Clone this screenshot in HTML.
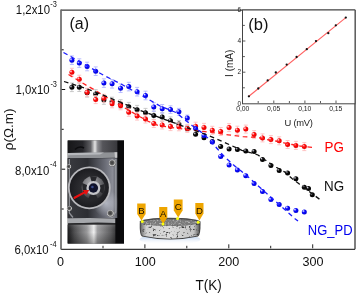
<!DOCTYPE html>
<html><head><meta charset="utf-8"><style>
html,body{margin:0;padding:0;background:#fff;}
body{width:357px;height:293px;overflow:hidden;position:relative;}
svg{position:absolute;left:0;top:0;will-change:transform;}
</style></head><body>
<svg width="357" height="293" viewBox="0 0 357 293" font-family="Liberation Sans, sans-serif">
<defs>
<radialGradient id="gb" cx="0.42" cy="0.42" r="0.62" fx="0.28" fy="0.28"><stop offset="0" stop-color="#f0f0ff"/><stop offset="0.22" stop-color="#9090ff"/><stop offset="0.45" stop-color="#0a0aff"/><stop offset="1" stop-color="#0000d0"/></radialGradient>
<radialGradient id="gr" cx="0.42" cy="0.42" r="0.62" fx="0.28" fy="0.28"><stop offset="0" stop-color="#f0e8ff"/><stop offset="0.22" stop-color="#ff9090"/><stop offset="0.45" stop-color="#ff0808"/><stop offset="1" stop-color="#e00000"/></radialGradient>
<radialGradient id="gk" cx="0.42" cy="0.42" r="0.62" fx="0.28" fy="0.28"><stop offset="0" stop-color="#e0e0f0"/><stop offset="0.22" stop-color="#707078"/><stop offset="0.45" stop-color="#080808"/><stop offset="1" stop-color="#000"/></radialGradient>
</defs>
<rect x="0" y="0" width="357" height="293" fill="#fff"/>
<!-- data -->
<path d="M69.9 83.0h4M69.9 91.6h4M71.9 83.0v8.6" stroke="#c4c4c4" stroke-width="0.9" fill="none"/>
<path d="M77.3 82.9h4M77.3 91.5h4M79.3 82.9v8.6" stroke="#c4c4c4" stroke-width="0.9" fill="none"/>
<path d="M85.1 88.5h4M85.1 97.1h4M87.1 88.5v8.6" stroke="#c4c4c4" stroke-width="0.9" fill="none"/>
<path d="M93.7 89.7h4M93.7 98.3h4M95.7 89.7v8.6" stroke="#c4c4c4" stroke-width="0.9" fill="none"/>
<path d="M101.9 95.7h4M101.9 104.3h4M103.9 95.7v8.6" stroke="#c4c4c4" stroke-width="0.9" fill="none"/>
<path d="M110.1 97.2h4M110.1 105.8h4M112.1 97.2v8.6" stroke="#c4c4c4" stroke-width="0.9" fill="none"/>
<path d="M118.6 99.7h4M118.6 108.3h4M120.6 99.7v8.6" stroke="#c4c4c4" stroke-width="0.9" fill="none"/>
<path d="M126.8 102.4h4M126.8 111.0h4M128.8 102.4v8.6" stroke="#c4c4c4" stroke-width="0.9" fill="none"/>
<path d="M135.1 105.4h4M135.1 114.0h4M137.1 105.4v8.6" stroke="#c4c4c4" stroke-width="0.9" fill="none"/>
<path d="M143.5 108.4h4M143.5 117.0h4M145.5 108.4v8.6" stroke="#c4c4c4" stroke-width="0.9" fill="none"/>
<path d="M151.8 111.1h4M151.8 119.7h4M153.8 111.1v8.6" stroke="#c4c4c4" stroke-width="0.9" fill="none"/>
<path d="M160.2 112.7h4M160.2 121.3h4M162.2 112.7v8.6" stroke="#c4c4c4" stroke-width="0.9" fill="none"/>
<path d="M168.5 116.9h4M168.5 124.5h4M170.5 116.9v7.7" stroke="#c4c4c4" stroke-width="0.9" fill="none"/>
<path d="M176.9 120.7h4M176.9 127.5h4M178.9 120.7v6.8" stroke="#c4c4c4" stroke-width="0.9" fill="none"/>
<path d="M185.3 125.5h4M185.3 131.3h4M187.3 125.5v5.9" stroke="#c4c4c4" stroke-width="0.9" fill="none"/>
<circle cx="71.9" cy="87.3" r="2.5" fill="url(#gk)"/>
<circle cx="79.3" cy="87.2" r="2.5" fill="url(#gk)"/>
<circle cx="87.1" cy="92.8" r="2.5" fill="url(#gk)"/>
<circle cx="95.7" cy="94.0" r="2.5" fill="url(#gk)"/>
<circle cx="103.9" cy="100.0" r="2.5" fill="url(#gk)"/>
<circle cx="112.1" cy="101.5" r="2.5" fill="url(#gk)"/>
<circle cx="120.6" cy="104.0" r="2.5" fill="url(#gk)"/>
<circle cx="128.8" cy="106.7" r="2.5" fill="url(#gk)"/>
<circle cx="137.1" cy="109.7" r="2.5" fill="url(#gk)"/>
<circle cx="145.5" cy="112.7" r="2.5" fill="url(#gk)"/>
<circle cx="153.8" cy="115.4" r="2.5" fill="url(#gk)"/>
<circle cx="162.2" cy="117.0" r="2.5" fill="url(#gk)"/>
<circle cx="170.5" cy="120.7" r="2.5" fill="url(#gk)"/>
<circle cx="178.9" cy="124.1" r="2.5" fill="url(#gk)"/>
<circle cx="187.3" cy="128.4" r="2.5" fill="url(#gk)"/>
<circle cx="195.6" cy="134.3" r="2.5" fill="url(#gk)"/>
<circle cx="204.0" cy="137.7" r="2.5" fill="url(#gk)"/>
<circle cx="212.3" cy="141.5" r="2.5" fill="url(#gk)"/>
<circle cx="220.7" cy="146.5" r="2.5" fill="url(#gk)"/>
<circle cx="229.1" cy="149.0" r="2.5" fill="url(#gk)"/>
<circle cx="237.4" cy="149.5" r="2.5" fill="url(#gk)"/>
<circle cx="245.8" cy="151.0" r="2.5" fill="url(#gk)"/>
<circle cx="254.1" cy="151.5" r="2.5" fill="url(#gk)"/>
<circle cx="262.5" cy="159.5" r="2.5" fill="url(#gk)"/>
<circle cx="270.9" cy="165.5" r="2.5" fill="url(#gk)"/>
<circle cx="279.2" cy="170.5" r="2.5" fill="url(#gk)"/>
<circle cx="287.6" cy="173.0" r="2.5" fill="url(#gk)"/>
<circle cx="295.9" cy="178.8" r="2.5" fill="url(#gk)"/>
<circle cx="304.3" cy="187.3" r="2.5" fill="url(#gk)"/>
<circle cx="308.5" cy="188.5" r="2.5" fill="url(#gk)"/>
<circle cx="312.3" cy="194.7" r="2.5" fill="url(#gk)"/>
<path d="M69.9 68.3h4M69.9 76.3h4M71.9 68.3v8.0" stroke="#ffc0c0" stroke-width="0.9" fill="none"/>
<path d="M77.3 75.2h4M77.3 83.2h4M79.3 75.2v8.0" stroke="#ffc0c0" stroke-width="0.9" fill="none"/>
<path d="M85.1 88.3h4M85.1 96.3h4M87.1 88.3v8.0" stroke="#ffc0c0" stroke-width="0.9" fill="none"/>
<path d="M93.7 95.6h4M93.7 103.6h4M95.7 95.6v8.0" stroke="#ffc0c0" stroke-width="0.9" fill="none"/>
<path d="M101.9 94.3h4M101.9 102.3h4M103.9 94.3v8.0" stroke="#ffc0c0" stroke-width="0.9" fill="none"/>
<path d="M110.1 99.8h4M110.1 107.8h4M112.1 99.8v8.0" stroke="#ffc0c0" stroke-width="0.9" fill="none"/>
<path d="M118.6 101.8h4M118.6 109.8h4M120.6 101.8v8.0" stroke="#ffc0c0" stroke-width="0.9" fill="none"/>
<path d="M126.8 108.3h4M126.8 116.3h4M128.8 108.3v8.0" stroke="#ffc0c0" stroke-width="0.9" fill="none"/>
<path d="M135.1 112.1h4M135.1 120.1h4M137.1 112.1v8.0" stroke="#ffc0c0" stroke-width="0.9" fill="none"/>
<path d="M143.5 115.0h4M143.5 123.0h4M145.5 115.0v8.0" stroke="#ffc0c0" stroke-width="0.9" fill="none"/>
<path d="M151.8 119.5h4M151.8 127.5h4M153.8 119.5v8.0" stroke="#ffc0c0" stroke-width="0.9" fill="none"/>
<path d="M160.2 121.0h4M160.2 129.0h4M162.2 121.0v8.0" stroke="#ffc0c0" stroke-width="0.9" fill="none"/>
<path d="M168.5 122.6h4M168.5 130.6h4M170.5 122.6v8.0" stroke="#ffc0c0" stroke-width="0.9" fill="none"/>
<path d="M176.9 122.8h4M176.9 130.8h4M178.9 122.8v8.0" stroke="#ffc0c0" stroke-width="0.9" fill="none"/>
<path d="M185.3 124.4h4M185.3 132.4h4M187.3 124.4v8.0" stroke="#ffc0c0" stroke-width="0.9" fill="none"/>
<path d="M193.6 122.2h4M193.6 130.2h4M195.6 122.2v8.0" stroke="#ffc0c0" stroke-width="0.9" fill="none"/>
<path d="M202.0 123.4h4M202.0 131.4h4M204.0 123.4v8.0" stroke="#ffc0c0" stroke-width="0.9" fill="none"/>
<path d="M210.3 126.3h4M210.3 134.3h4M212.3 126.3v8.0" stroke="#ffc0c0" stroke-width="0.9" fill="none"/>
<path d="M218.7 127.5h4M218.7 135.5h4M220.7 127.5v8.0" stroke="#ffc0c0" stroke-width="0.9" fill="none"/>
<path d="M227.1 123.6h4M227.1 131.6h4M229.1 123.6v8.0" stroke="#ffc0c0" stroke-width="0.9" fill="none"/>
<path d="M235.4 126.2h4M235.4 134.2h4M237.4 126.2v8.0" stroke="#ffc0c0" stroke-width="0.9" fill="none"/>
<path d="M243.8 125.1h4M243.8 133.1h4M245.8 125.1v8.0" stroke="#ffc0c0" stroke-width="0.9" fill="none"/>
<path d="M252.1 130.6h4M252.1 138.6h4M254.1 130.6v8.0" stroke="#ffc0c0" stroke-width="0.9" fill="none"/>
<path d="M260.5 133.9h4M260.5 141.9h4M262.5 133.9v8.0" stroke="#ffc0c0" stroke-width="0.9" fill="none"/>
<path d="M268.9 135.6h4M268.9 143.6h4M270.9 135.6v8.0" stroke="#ffc0c0" stroke-width="0.9" fill="none"/>
<path d="M277.2 136.8h4M277.2 144.8h4M279.2 136.8v8.0" stroke="#ffc0c0" stroke-width="0.9" fill="none"/>
<path d="M285.6 140.5h4M285.6 148.5h4M287.6 140.5v8.0" stroke="#ffc0c0" stroke-width="0.9" fill="none"/>
<path d="M293.9 141.4h4M293.9 149.4h4M295.9 141.4v8.0" stroke="#ffc0c0" stroke-width="0.9" fill="none"/>
<path d="M302.3 142.6h4M302.3 150.6h4M304.3 142.6v8.0" stroke="#ffc0c0" stroke-width="0.9" fill="none"/>
<circle cx="71.9" cy="72.3" r="2.5" fill="url(#gr)"/>
<circle cx="79.3" cy="79.2" r="2.5" fill="url(#gr)"/>
<circle cx="87.1" cy="92.3" r="2.5" fill="url(#gr)"/>
<circle cx="95.7" cy="99.6" r="2.5" fill="url(#gr)"/>
<circle cx="103.9" cy="98.3" r="2.5" fill="url(#gr)"/>
<circle cx="112.1" cy="103.8" r="2.5" fill="url(#gr)"/>
<circle cx="120.6" cy="105.8" r="2.5" fill="url(#gr)"/>
<circle cx="128.8" cy="112.3" r="2.5" fill="url(#gr)"/>
<circle cx="137.1" cy="116.1" r="2.5" fill="url(#gr)"/>
<circle cx="145.5" cy="119.0" r="2.5" fill="url(#gr)"/>
<circle cx="153.8" cy="123.5" r="2.5" fill="url(#gr)"/>
<circle cx="162.2" cy="125.0" r="2.5" fill="url(#gr)"/>
<circle cx="170.5" cy="126.6" r="2.5" fill="url(#gr)"/>
<circle cx="178.9" cy="126.8" r="2.5" fill="url(#gr)"/>
<circle cx="187.3" cy="128.4" r="2.5" fill="url(#gr)"/>
<circle cx="195.6" cy="126.2" r="2.5" fill="url(#gr)"/>
<circle cx="204.0" cy="127.4" r="2.5" fill="url(#gr)"/>
<circle cx="212.3" cy="130.3" r="2.5" fill="url(#gr)"/>
<circle cx="220.7" cy="131.5" r="2.5" fill="url(#gr)"/>
<circle cx="229.1" cy="127.6" r="2.5" fill="url(#gr)"/>
<circle cx="237.4" cy="130.2" r="2.5" fill="url(#gr)"/>
<circle cx="245.8" cy="129.1" r="2.5" fill="url(#gr)"/>
<circle cx="254.1" cy="134.6" r="2.5" fill="url(#gr)"/>
<circle cx="262.5" cy="137.9" r="2.5" fill="url(#gr)"/>
<circle cx="270.9" cy="139.6" r="2.5" fill="url(#gr)"/>
<circle cx="279.2" cy="140.8" r="2.5" fill="url(#gr)"/>
<circle cx="287.6" cy="144.5" r="2.5" fill="url(#gr)"/>
<circle cx="295.9" cy="145.4" r="2.5" fill="url(#gr)"/>
<circle cx="304.3" cy="146.6" r="2.5" fill="url(#gr)"/>
<path d="M69.9 55.9h4M69.9 64.5h4M71.9 55.9v8.6" stroke="#b4b8ff" stroke-width="0.9" fill="none"/>
<path d="M77.3 58.8h4M77.3 67.4h4M79.3 58.8v8.6" stroke="#b4b8ff" stroke-width="0.9" fill="none"/>
<path d="M85.1 62.2h4M85.1 70.8h4M87.1 62.2v8.6" stroke="#b4b8ff" stroke-width="0.9" fill="none"/>
<path d="M93.7 66.9h4M93.7 75.5h4M95.7 66.9v8.6" stroke="#b4b8ff" stroke-width="0.9" fill="none"/>
<path d="M101.9 78.8h4M101.9 87.4h4M103.9 78.8v8.6" stroke="#b4b8ff" stroke-width="0.9" fill="none"/>
<path d="M110.1 79.5h4M110.1 88.1h4M112.1 79.5v8.6" stroke="#b4b8ff" stroke-width="0.9" fill="none"/>
<path d="M118.6 83.9h4M118.6 92.5h4M120.6 83.9v8.6" stroke="#b4b8ff" stroke-width="0.9" fill="none"/>
<path d="M126.8 82.3h4M126.8 90.9h4M128.8 82.3v8.6" stroke="#b4b8ff" stroke-width="0.9" fill="none"/>
<path d="M135.1 87.4h4M135.1 96.0h4M137.1 87.4v8.6" stroke="#b4b8ff" stroke-width="0.9" fill="none"/>
<path d="M143.5 91.2h4M143.5 99.8h4M145.5 91.2v8.6" stroke="#b4b8ff" stroke-width="0.9" fill="none"/>
<path d="M151.8 102.7h4M151.8 111.3h4M153.8 102.7v8.6" stroke="#b4b8ff" stroke-width="0.9" fill="none"/>
<path d="M160.2 104.5h4M160.2 113.1h4M162.2 104.5v8.6" stroke="#b4b8ff" stroke-width="0.9" fill="none"/>
<path d="M168.5 105.8h4M168.5 113.4h4M170.5 105.8v7.7" stroke="#b4b8ff" stroke-width="0.9" fill="none"/>
<path d="M176.9 108.4h4M176.9 115.2h4M178.9 108.4v6.8" stroke="#b4b8ff" stroke-width="0.9" fill="none"/>
<path d="M185.3 115.1h4M185.3 121.0h4M187.3 115.1v5.9" stroke="#b4b8ff" stroke-width="0.9" fill="none"/>
<circle cx="71.9" cy="60.2" r="2.5" fill="url(#gb)"/>
<circle cx="79.3" cy="63.1" r="2.5" fill="url(#gb)"/>
<circle cx="87.1" cy="66.5" r="2.5" fill="url(#gb)"/>
<circle cx="95.7" cy="71.2" r="2.5" fill="url(#gb)"/>
<circle cx="103.9" cy="83.1" r="2.5" fill="url(#gb)"/>
<circle cx="112.1" cy="83.8" r="2.5" fill="url(#gb)"/>
<circle cx="120.6" cy="88.2" r="2.5" fill="url(#gb)"/>
<circle cx="128.8" cy="86.6" r="2.5" fill="url(#gb)"/>
<circle cx="137.1" cy="91.7" r="2.5" fill="url(#gb)"/>
<circle cx="145.5" cy="95.5" r="2.5" fill="url(#gb)"/>
<circle cx="153.8" cy="107.0" r="2.5" fill="url(#gb)"/>
<circle cx="162.2" cy="108.8" r="2.5" fill="url(#gb)"/>
<circle cx="170.5" cy="109.6" r="2.5" fill="url(#gb)"/>
<circle cx="178.9" cy="111.8" r="2.5" fill="url(#gb)"/>
<circle cx="187.3" cy="118.1" r="2.5" fill="url(#gb)"/>
<circle cx="195.6" cy="128.4" r="2.5" fill="url(#gb)"/>
<circle cx="204.0" cy="135.5" r="2.5" fill="url(#gb)"/>
<circle cx="212.3" cy="142.1" r="2.5" fill="url(#gb)"/>
<circle cx="220.7" cy="156.5" r="2.5" fill="url(#gb)"/>
<circle cx="229.1" cy="165.0" r="2.5" fill="url(#gb)"/>
<circle cx="237.4" cy="170.0" r="2.5" fill="url(#gb)"/>
<circle cx="245.8" cy="175.7" r="2.5" fill="url(#gb)"/>
<circle cx="254.1" cy="183.5" r="2.5" fill="url(#gb)"/>
<circle cx="262.5" cy="191.5" r="2.5" fill="url(#gb)"/>
<circle cx="270.9" cy="199.6" r="2.5" fill="url(#gb)"/>
<circle cx="279.2" cy="204.5" r="2.5" fill="url(#gb)"/>
<circle cx="287.6" cy="208.2" r="2.5" fill="url(#gb)"/>
<circle cx="295.9" cy="210.5" r="2.5" fill="url(#gb)"/>
<circle cx="304.3" cy="212.0" r="2.5" fill="url(#gb)"/>
<polyline points="68.5,74.5 85.7,84.9 93.6,89.4 100.0,93.4 140.0,116.8 149.0,121.7 158.0,125.5 175.0,128.0 209.5,132.2 228.0,134.8 243.0,136.7 258.0,137.5 267.0,139.5 275.5,141.0 283.7,142.8 292.0,144.5 300.0,146.0 314.0,147.5" fill="none" stroke="#ff2020" stroke-width="1.3" stroke-dasharray="4.6 3.6"/>
<polyline points="64.0,81.5 86.0,88.5 105.0,95.8 137.6,109.4 209.8,136.0 226.5,143.3 241.8,150.3 250.0,152.5 258.0,155.0 269.0,162.7 276.3,167.3 284.9,172.1 292.0,178.5 299.3,184.1 319.5,199.2" fill="none" stroke="#111" stroke-width="1.3" stroke-dasharray="4.6 3.6"/>
<polyline points="63.5,52.5 105.0,76.0 121.0,84.0 151.0,100.8 160.0,106.0 176.0,112.5 192.0,125.5 200.5,131.6 208.7,138.8 217.5,149.0 224.5,156.8 233.3,164.8 240.8,170.8 248.5,177.2 295.3,219.0 298.0,221.0" fill="none" stroke="#1a1aff" stroke-width="1.3" stroke-dasharray="4.6 3.6"/>
<!-- frame -->
<path d="M61 10.1H355M355 10V249.3M61 249.3H355" fill="none" stroke="#3a3a3a" stroke-width="1.3"/>
<path d="M61 9.5V249.6" stroke="#6a6a6a" stroke-width="1.7"/>
<path d="M61.7 49.8h2M61.7 89.5h3.5M61.7 129.3h2M61.7 169.2h3.5M61.7 209h2" stroke="#111" stroke-width="1"/>
<path d="M144.9 248.3v-4M103 248.3v-2.5M186.8 248.3v-2.5M228.8 248.3v-4M270.7 248.3v-2.5M312.7 248.3v-4" stroke="#222" stroke-width="1"/>
<!-- y labels -->
<g font-size="11.4" fill="#111">
<text transform="translate(15.8,14.0) scale(1,1.2)">1,2x10</text><text transform="translate(50.2,6.8) scale(1,1.2)" font-size="7.4">-3</text>
<text transform="translate(15.5,94.4) scale(1,1.2)">1,0x10</text><text transform="translate(50.4,87.2) scale(1,1.2)" font-size="7.4">-3</text>
<text transform="translate(15.1,174.5) scale(1,1.2)">8,0x10</text><text transform="translate(50,167.2) scale(1,1.2)" font-size="7.4">-4</text>
<text transform="translate(14.5,254.0) scale(1,1.2)">6,0x10</text><text transform="translate(50,246.8) scale(1,1.2)" font-size="7.4">-4</text>
</g>
<g font-size="12.6" fill="#111" text-anchor="middle">
<text transform="translate(60.6,265.6) scale(1,1.08)">0</text>
<text transform="translate(145.2,265.6) scale(1,1.08)">100</text>
<text transform="translate(228.8,265.6) scale(1,1.08)">200</text>
<text transform="translate(313.1,265.6) scale(1,1.08)">300</text>
</g>
<text transform="translate(208.6,290.0) scale(1,1.12)" font-size="13.5" fill="#111" text-anchor="middle">T(K)</text>
<text transform="translate(13,129.4) rotate(-90)" font-size="13.5" fill="#111" text-anchor="middle">ρ(Ω.m)</text>
<text transform="translate(69.5,29.0) scale(1,1.08)" font-size="16" fill="#111">(a)</text>
<text transform="translate(324.6,152.2) scale(1,1.15)" font-size="13.4" fill="#ff0000">PG</text>
<text transform="translate(324,190.8) scale(1,1.15)" font-size="13.4" fill="#111">NG</text>
<text transform="translate(307.8,234.6) scale(1,1.15)" font-size="13" fill="#0000ee">NG_PD</text>
<!-- photo -->
<defs>
<linearGradient id="topcyl" x1="0" x2="1" y1="0" y2="0">
<stop offset="0" stop-color="#161618"/><stop offset="0.3" stop-color="#26262a"/><stop offset="0.46" stop-color="#606064"/><stop offset="0.545" stop-color="#e4e4e4"/><stop offset="0.6" stop-color="#8a8a8e"/><stop offset="0.7" stop-color="#55555a"/><stop offset="1" stop-color="#38383c"/>
</linearGradient>
<linearGradient id="botcyl" x1="0" x2="1" y1="0" y2="0">
<stop offset="0" stop-color="#1a1a1c"/><stop offset="0.14" stop-color="#505052"/><stop offset="0.4" stop-color="#9a9a9c"/><stop offset="0.545" stop-color="#f2f2f2"/><stop offset="0.62" stop-color="#a2a2a4"/><stop offset="0.9" stop-color="#5e5e60"/><stop offset="1" stop-color="#3a3a3c"/>
</linearGradient>
<linearGradient id="botshade" x1="0" x2="0" y1="0" y2="1">
<stop offset="0" stop-color="#fff" stop-opacity="0.12"/><stop offset="0.4" stop-color="#000" stop-opacity="0"/><stop offset="1" stop-color="#000" stop-opacity="0.3"/>
</linearGradient>
<linearGradient id="plate" x1="0" x2="1" y1="0" y2="0">
<stop offset="0" stop-color="#3a3b40"/><stop offset="0.4" stop-color="#2c2d32"/><stop offset="0.75" stop-color="#6a6c76"/><stop offset="0.9" stop-color="#8a8c96"/><stop offset="1" stop-color="#5a5c64"/>
</linearGradient>
<radialGradient id="win" cx="0.5" cy="0.5" r="0.5">
<stop offset="0" stop-color="#3a3a3e"/><stop offset="0.75" stop-color="#242428"/><stop offset="1" stop-color="#1c1c20"/>
</radialGradient>
<radialGradient id="hold" cx="0.4" cy="0.3" r="0.7">
<stop offset="0" stop-color="#b0b0b4"/><stop offset="0.6" stop-color="#6a6a6e"/><stop offset="1" stop-color="#3a3a3e"/>
</radialGradient>
<radialGradient id="sheen" cx="0.5" cy="0.5" r="0.5"><stop offset="0" stop-color="#c8ccd8" stop-opacity="0.75"/><stop offset="1" stop-color="#c8ccd8" stop-opacity="0"/></radialGradient>
<radialGradient id="screw" cx="0.45" cy="0.45" r="0.55">
<stop offset="0" stop-color="#3a3a3a"/><stop offset="0.5" stop-color="#606060"/><stop offset="0.78" stop-color="#c8c8c8"/><stop offset="1" stop-color="#666"/>
</radialGradient>
</defs>
<rect x="67.7" y="140.5" width="56.3" height="103" fill="#141416"/>
<rect x="67.7" y="140.5" width="50" height="12.5" fill="url(#topcyl)"/>
<path d="M75 149.5 Q79 145.5 84 148" stroke="#0c0c0e" stroke-width="1.6" fill="none"/>
<path d="M68 153 L117.5 152.2 L117.5 157.8 L68 158.4 Z" fill="#909296"/>
<path d="M68 153 L104 152.5 L100 154.6 L68 155.2 Z" fill="#b6b8bc"/>
<path d="M114.5 152.3 L117.5 152.2 L117.5 157.8 L115 157.8 Z" fill="#c8c8ca"/>
<rect x="67.7" y="158.2" width="49.8" height="60" fill="url(#plate)"/>
<rect x="67.7" y="158.2" width="2" height="60" fill="#2e2e32"/>
<ellipse cx="106" cy="203" rx="13" ry="14" fill="url(#sheen)"/>
<path d="M69.3 159 V213 L73 217.5 M115.8 159 V212 L111.5 217.5" stroke="#a0a2a8" stroke-width="1.3" fill="none" opacity="0.85"/>
<circle cx="68.9" cy="166.7" r="2.4" fill="url(#screw)"/>
<circle cx="69.5" cy="208.5" r="2.6" fill="url(#screw)"/>
<circle cx="112.4" cy="163.1" r="3.6" fill="url(#screw)"/>
<circle cx="110.6" cy="213.5" r="3.6" fill="url(#screw)"/>
<circle cx="89.3" cy="187.8" r="21.4" fill="#b8b8bc"/>
<circle cx="89.3" cy="187.8" r="19.6" fill="url(#win)"/>
<circle cx="93.2" cy="187.5" r="11.5" fill="url(#hold)"/>
<path d="M93.2 187.5 L82 183 L83 192.5 Z M93.2 187.5 L98 199.5 L88 199.5 Z M93.2 187.5 L104.5 184 L103.5 194 Z M93.2 187.5 L90 176 L97 176.5 Z" fill="#26262a"/>
<circle cx="93.4" cy="188" r="7" fill="#c4c4c8"/>
<circle cx="93.4" cy="188" r="4.7" fill="#10122a"/>
<circle cx="92.4" cy="187" r="1.3" fill="#3a4a8a"/>
<path d="M68 218.3 Q92 217.5 115.5 218.5 L115.5 223 Q92 222.2 68 223.5 Z" fill="#a6a8ac"/>
<path d="M68 223.5 Q92 222.2 115.5 223 L115.5 224.8 L68 224.8 Z" fill="#2a2a2c"/>
<rect x="67.7" y="224.7" width="48" height="18.8" fill="url(#botcyl)"/>
<rect x="67.7" y="224.7" width="48" height="18.8" fill="url(#botshade)"/>
<rect x="117.5" y="140.5" width="6.5" height="78" fill="#0a0a0c"/>
<rect x="115.5" y="218" width="8.5" height="25.5" fill="#0a0a0c"/>
<path d="M74.5 197.8 L86 191.6" stroke="#e81010" stroke-width="2.2" stroke-linecap="round"/>
<path d="M89.2 189.9 L82.8 190 L86.2 195 Z" fill="#e81010"/>
<!-- disc -->
<defs>
<filter id="noise" x="0" y="0" width="100%" height="100%">
<feTurbulence type="fractalNoise" baseFrequency="0.38" numOctaves="2" seed="7" result="t"/>
<feColorMatrix in="t" type="matrix" values="0 0 0 0 0  0 0 0 0 0  0 0 0 0 0  0 0 0 -5 2.05" result="a"/>
<feComposite in="SourceGraphic" in2="a" operator="in"/>
</filter>
<filter id="noise2" x="0" y="0" width="100%" height="100%">
<feTurbulence type="fractalNoise" baseFrequency="0.6" numOctaves="2" seed="11" result="t"/>
<feColorMatrix in="t" type="matrix" values="0 0 0 0 0  0 0 0 0 0  0 0 0 0 0  0 0 0 4 -1.9" result="a"/>
<feComposite in="SourceGraphic" in2="a" operator="in"/>
</filter>
<linearGradient id="wall" x1="0" x2="1" y1="0" y2="0">
<stop offset="0" stop-color="#6a6a6a"/><stop offset="0.1" stop-color="#d0d0d0"/><stop offset="0.5" stop-color="#dcdcdc"/><stop offset="0.9" stop-color="#c4c4c4"/><stop offset="1" stop-color="#5a5a5a"/>
</linearGradient>
<linearGradient id="shadow" x1="0" x2="0" y1="0" y2="1">
<stop offset="0" stop-color="#9cbbe6"/><stop offset="1" stop-color="#ffffff" stop-opacity="0"/>
</linearGradient>
</defs>
<ellipse cx="170" cy="239.5" rx="30.5" ry="5" fill="url(#shadow)"/>
<path d="M139.8 221.5 Q139.3 235.5 142 236.5 Q170 242.5 198 236.5 Q200.8 235.5 200.5 221.5 Z" fill="#3a3a3a"/>
<path d="M140.6 222 Q140.2 235 142.5 235.8 Q170 241.5 197.5 235.8 Q199.8 235 199.6 222 Z" fill="url(#wall)"/>
<path d="M140.6 222 Q140.2 235 142.5 235.8 Q170 241.5 197.5 235.8 Q199.8 235 199.6 222 Z" fill="#303030" filter="url(#noise)" opacity="0.9"/>
<ellipse cx="170" cy="221.8" rx="30.3" ry="4" fill="#4a4a4a"/>
<ellipse cx="170" cy="222.4" rx="29.5" ry="3.2" fill="#7a7a7a"/>
<ellipse cx="170" cy="222.4" rx="29.5" ry="3.2" fill="#b0b0b0" filter="url(#noise2)"/>
<g fill="#eea500">
<path d="M137.2 203.5 L145.6 203.5 L145.6 214 L141.5 220.5 L137.2 214 Z"/>
<path d="M159.2 207 L167.3 207 L167.3 217.5 L163.2 224 L159.2 217.5 Z"/>
<path d="M173.8 199.6 L182.6 199.6 L182.6 210.5 L178.2 217.5 L173.8 210.5 Z"/>
<path d="M195.3 203 L203.5 203 L203.5 213.5 L199.4 220.5 L195.3 213.5 Z"/>
</g>
<g font-size="9.6" fill="#1a1000" text-anchor="middle">
<text x="141.4" y="214.3">B</text><text x="163.2" y="216.8">A</text><text x="178.2" y="209.8">C</text><text x="199.4" y="213.6">D</text>
</g>
<g fill="#f8ff10"><circle cx="142.3" cy="221.4" r="1.5"/><circle cx="163" cy="224" r="1.5"/><circle cx="177.6" cy="218.6" r="1.5"/><circle cx="198.2" cy="222.2" r="1.5"/></g>
<!-- inset b -->
<rect x="242.5" y="10" width="112.5" height="93.8" fill="#fff" stroke="#444" stroke-width="1"/>
<path d="M242.9 25.4h2M242.9 41h2.5M242.9 56.6h2M242.9 72.2h2.5M242.9 87.8h2M258.2 103v-2M273.8 103v-2.5M289.4 103v-2M304.9 103v-2.5M320.5 103v-2M336 103v-2.5" stroke="#333" stroke-width="0.8"/>
<polyline points="248.9,96.3 345.8,17.6" stroke="#ff6060" stroke-width="1.1" fill="none"/>
<circle cx="248.9" cy="96.3" r="1.15" fill="#111"/><circle cx="258.3" cy="88.5" r="1.15" fill="#111"/><circle cx="267.7" cy="80.4" r="1.15" fill="#111"/><circle cx="275.8" cy="72.5" r="1.15" fill="#111"/><circle cx="286.7" cy="64.6" r="1.15" fill="#111"/><circle cx="296.6" cy="57" r="1.15" fill="#111"/><circle cx="306.8" cy="49.2" r="1.15" fill="#111"/><circle cx="316" cy="41.1" r="1.15" fill="#111"/><circle cx="328.3" cy="33.2" r="1.15" fill="#111"/><circle cx="335.8" cy="25.3" r="1.15" fill="#111"/><circle cx="345.8" cy="17.6" r="1.15" fill="#111"/>
<g font-size="6.5" fill="#222" text-anchor="end">
<text x="241" y="11.6">6</text><text x="241" y="42.8">4</text><text x="241" y="74.4">2</text><text x="241" y="105.5">0</text>
</g>
<g font-size="6.8" fill="#222" text-anchor="middle">
<text x="242.8" y="111.4">0,00</text><text x="273.6" y="111.4">0,05</text><text x="304.8" y="111.4">0,10</text><text x="335.8" y="111.4">0,15</text>
</g>
<text x="298.6" y="126.2" font-size="9.4" fill="#222" text-anchor="middle" letter-spacing="-0.25">U (mV)</text>
<text transform="translate(233,63.3) rotate(-90)" font-size="10" fill="#222" text-anchor="middle">I (mA)</text>
<text x="248.3" y="30" font-size="16.5" fill="#111">(b)</text>
</svg>
</body></html>
